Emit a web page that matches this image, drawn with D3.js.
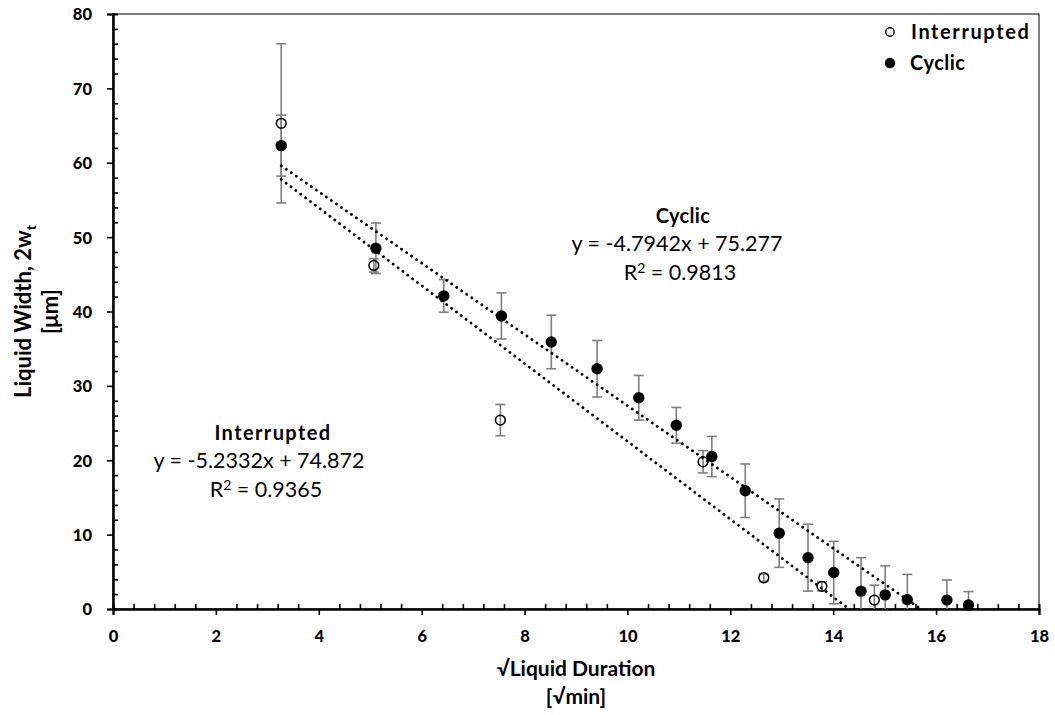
<!DOCTYPE html>
<html><head><meta charset="utf-8">
<script src="https://cdn.jsdelivr.net/npm/d3@7"></script>
<style>body{margin:0;background:#fff}svg{display:block}text{font-family:Lato,"Open Sans",sans-serif}</style>
</head><body>
<svg id="c" width="1055" height="715"></svg>
<script>
// Interrupted series
const intX   = [3.27, 5.07, 7.53, 11.47, 12.65, 13.78, 14.80];
const intY   = [65.3, 46.2, 25.4, 19.8, 4.2, 3.05, 1.2];
const intErr = [10.7, 0.9, 2.1, 1.5, 0.5, 0.6, 2.0];
// Cyclic series
const cycX   = [3.27, 5.11, 6.43, 7.55, 8.52, 9.41, 10.22, 10.95, 11.64, 12.29, 12.95, 13.51, 14.01, 14.54, 15.01, 15.44, 16.21, 16.63];
const cycY   = [62.3, 48.5, 42.1, 39.4, 35.9, 32.3, 28.4, 24.7, 20.5, 15.9, 10.2, 6.9, 4.9, 2.4, 1.9, 1.25, 1.2, 0.54];
const cycErr = [4.1, 3.4, 2.2, 3.1, 3.6, 3.8, 3.0, 2.4, 2.7, 3.6, 4.6, 4.5, 4.2, 4.5, 3.9, 3.4, 2.7, 1.8];
// Trendlines [slope, intercept]
const intFit = [-5.2332, 74.872];
const cycFit = [-4.7942, 75.277];
const xTicks = [0, 2, 4, 6, 8, 10, 12, 14, 16, 18];
const yTicks = [0, 10, 20, 30, 40, 50, 60, 70, 80];

const svg = d3.select("#c");
const L = 113, R = 1039, T = 14, B = 609;
const x = d3.scaleLinear().domain([0, 18]).range([L, R]);
const y = d3.scaleLinear().domain([0, 80]).range([B, T]);

svg.append("defs").append("clipPath").attr("id", "clip")
  .append("rect").attr("x", L).attr("y", T).attr("width", R - L).attr("height", B - T);

// plot border (top/right)
svg.append("rect").attr("x", L).attr("y", T).attr("width", R - L).attr("height", B - T)
  .attr("fill", "none").attr("stroke", "#000").attr("stroke-width", 1);

// minor ticks (inside)
const xMinor = d3.range(0, 18.001, 0.4).filter(v => Math.abs(v / 2 - Math.round(v / 2)) > 1e-6);
const yMinor = d3.range(0, 80.001, 2).filter(v => v % 10 !== 0);
const xAxisMinor = d3.axisTop(x).tickValues(xMinor).tickSize(5).tickFormat("");
const yAxisMinor = d3.axisRight(y).tickValues(yMinor).tickSize(5).tickFormat("");
svg.append("g").attr("transform", `translate(0,${B})`).call(xAxisMinor);
svg.append("g").attr("transform", `translate(${L},0)`).call(yAxisMinor);

// major axes
const xAxis = d3.axisBottom(x).tickValues(xTicks).tickSize(6).tickPadding(15).tickFormat(d3.format("d"));
const yAxis = d3.axisLeft(y).tickValues(yTicks).tickSize(6).tickPadding(15).tickFormat(d3.format("d"));
const gx = svg.append("g").attr("transform", `translate(0,${B})`).call(xAxis);
const gy = svg.append("g").attr("transform", `translate(${L},0)`).call(yAxis);
svg.selectAll(".domain").attr("stroke", "#000").attr("stroke-width", 2);
svg.selectAll(".tick line").attr("stroke", "#000").attr("stroke-width", 1.6);
svg.selectAll(".tick text").attr("font-family", "Lato, sans-serif").attr("font-weight", "900")
  .attr("font-size", 16.5).attr("fill", "#000");
gy.selectAll(".tick text").attr("dy", "0.36em");

// series
const plot = svg.append("g").attr("clip-path", "url(#clip)");
function drawErr(xs, ys, es) {
  const g = plot.append("g").attr("stroke", "#7f7f7f").attr("stroke-width", 1.6);
  xs.forEach((xv, i) => {
    const px = x(xv), y1 = y(ys[i] + es[i]), y0 = y(ys[i] - es[i]);
    g.append("line").attr("x1", px).attr("x2", px).attr("y1", y1).attr("y2", y0);
    g.append("line").attr("x1", px - 5).attr("x2", px + 5).attr("y1", y1).attr("y2", y1);
    g.append("line").attr("x1", px - 5).attr("x2", px + 5).attr("y1", y0).attr("y2", y0);
  });
}
drawErr(intX, intY, intErr);
svg.append("g").selectAll("circle").data(intX).join("circle")
  .attr("cx", d => x(d)).attr("cy", (d, i) => y(intY[i])).attr("r", 4.9)
  .attr("fill", "none").attr("stroke", "#000").attr("stroke-width", 1.5);
drawErr(cycX, cycY, cycErr);
svg.append("g").selectAll("circle").data(cycX).join("circle")
  .attr("cx", d => x(d)).attr("cy", (d, i) => y(cycY[i])).attr("r", 5.7)
  .attr("fill", "#000");

// trendlines
function trend(fit, xs) {
  const x0 = d3.min(xs), x1 = d3.max(xs);
  plot.append("line")
    .attr("x1", x(x0)).attr("y1", y(fit[0] * x0 + fit[1]))
    .attr("x2", x(x1)).attr("y2", y(fit[0] * x1 + fit[1]))
    .attr("stroke", "#000").attr("stroke-width", 2.8)
    .attr("stroke-dasharray", "0.1 6").attr("stroke-linecap", "round");
}
trend(intFit, intX.concat(cycX));
trend(cycFit, cycX);

// annotations
function annot(cxs, yb, title, fit, r2, ls) {
  const g = svg.append("g").attr("text-anchor", "middle").attr("fill", "#000").attr("font-size", 21.5);
  g.append("text").attr("x", cxs[0]).attr("y", yb).attr("font-weight", "bold").attr("font-size", 20)
    .attr("letter-spacing", ls).text(title);
  g.append("text").attr("x", cxs[1]).attr("y", yb + 28)
    .text(`y = ${fit[0]}x + ${fit[1]}`);
  const t = g.append("text").attr("x", cxs[2]).attr("y", yb + 57);
  t.append("tspan").text("R");
  t.append("tspan").attr("font-size", 14).attr("dy", -7).text("2");
  t.append("tspan").attr("dy", 7).text(` = ${r2}`);
}
annot([683, 677, 680], 223, "Cyclic", cycFit, "0.9813", 0.3);
annot([273, 259, 266], 440, "Interrupted", intFit, "0.9365", 1.4);

// legend
const lg = svg.append("g").attr("font-size", 20).attr("font-weight", "bold");
lg.append("circle").attr("cx", 890).attr("cy", 32).attr("r", 4.2).attr("fill", "none").attr("stroke", "#000").attr("stroke-width", 1.4);
lg.append("text").attr("x", 911).attr("y", 39).attr("letter-spacing", 1.6).text("Interrupted");
lg.append("circle").attr("cx", 890).attr("cy", 63).attr("r", 5.2).attr("fill", "#000");
lg.append("text").attr("x", 910).attr("y", 70).attr("letter-spacing", 0.5).text("Cyclic");

// axis titles
const xt = svg.append("g").attr("text-anchor", "middle").attr("font-weight", "bold").attr("font-size", 21);
xt.append("text").attr("x", (L + R) / 2).attr("y", 676).text("\u221ALiquid Duration");
xt.append("text").attr("x", (L + R) / 2).attr("y", 704).text("[\u221Amin]");
const yt = svg.append("g").attr("text-anchor", "middle").attr("font-weight", "bold").attr("font-size", 22)
  .attr("transform", `translate(0,${(T + B) / 2}) rotate(-90)`);
const t1 = yt.append("text").attr("x", 0).attr("y", 31);
t1.append("tspan").text("Liquid Width, 2w");
t1.append("tspan").attr("font-size", 14).attr("dy", 5).text("t");
yt.append("text").attr("x", 0).attr("y", 58).text("[\u03BCm]");
</script>
</body></html>
